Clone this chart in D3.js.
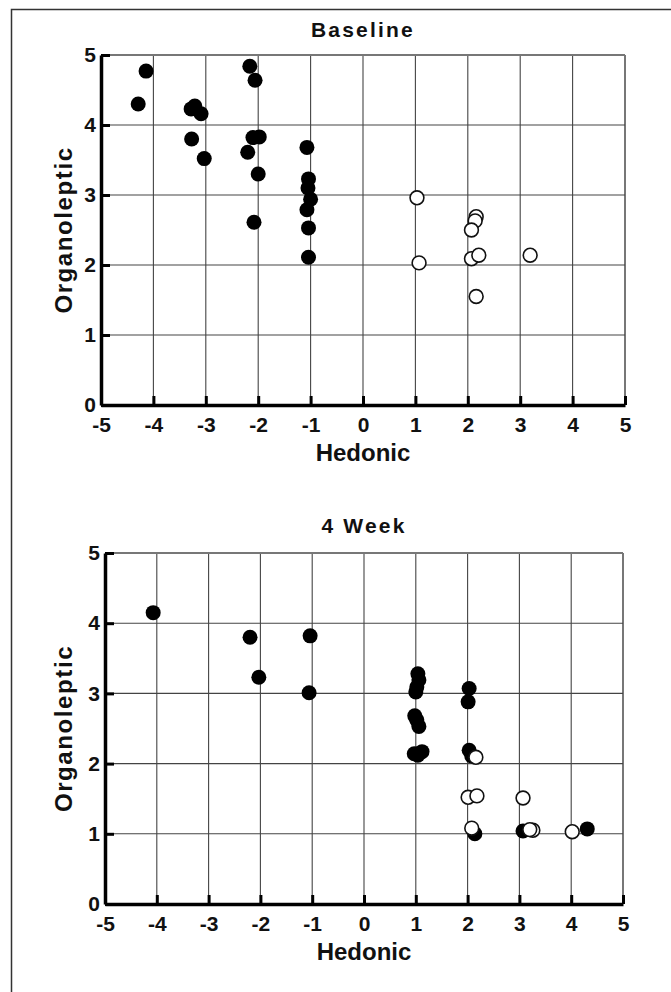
<!DOCTYPE html>
<html>
<head>
<meta charset="utf-8">
<script src="https://cdn.jsdelivr.net/npm/d3@7"></script>
<style>
  body { margin: 0; background: #fff; }
  text { font-family: "Liberation Sans", Arial, sans-serif; font-weight: bold; fill: #111; }
</style>
</head>
<body>
<div class="figure"></div>
<script>
var width = 671, height = 992;

// hedonic / organoleptic pairs
var baselineSolid = [
  [-4.29, 4.30], [-4.14, 4.77], [-3.28, 4.23], [-3.21, 4.27], [-3.09, 4.16],
  [-3.27, 3.80], [-3.03, 3.52], [-2.16, 4.84], [-2.06, 4.64], [-2.10, 3.82],
  [-1.98, 3.83], [-2.20, 3.61], [-2.00, 3.30], [-2.08, 2.61], [-1.07, 3.68],
  [-1.04, 3.23], [-1.05, 3.10], [-1.00, 2.94], [-1.07, 2.79], [-1.04, 2.53],
  [-1.04, 2.11]
];
var baselineOpen = [
  [1.03, 2.96], [1.07, 2.03], [2.16, 2.69], [2.14, 2.63], [2.07, 2.50],
  [2.07, 2.09], [2.21, 2.14], [2.16, 1.55], [3.19, 2.14]
];
var weekSolid = [
  [-4.07, 4.15], [-2.20, 3.80], [-2.03, 3.23], [-1.04, 3.82], [-1.06, 3.01],
  [1.04, 3.28], [1.06, 3.19], [1.02, 3.09], [1.00, 3.02], [0.98, 2.68],
  [1.02, 2.62], [1.06, 2.53], [0.97, 2.14], [1.12, 2.17], [1.04, 2.12],
  [2.03, 3.07], [2.01, 2.88], [2.03, 2.19], [2.08, 2.11], [2.14, 1.00],
  [3.07, 1.04], [4.31, 1.07]
];
var weekOpen = [
  [2.16, 2.09], [2.01, 1.52], [2.18, 1.54], [3.07, 1.51], [2.08, 1.08],
  [3.26, 1.05], [3.20, 1.06], [4.02, 1.03]
];
var xTicks = [-5, -4, -3, -2, -1, 0, 1, 2, 3, 4, 5];
var yTicks = [0, 1, 2, 3, 4, 5];

var svg = d3.select(".figure")
            .append("svg")
            .attr("width", width)
            .attr("height", height);

// frame (only top and left edges are visible)
svg.append("path")
   .attr("d", "M11.5,992 V9.5 H671")
   .attr("fill", "none")
   .attr("stroke", "#333")
   .attr("stroke-width", 1.5);

function panel(title, solid, open, box, titleY) {
  var x = d3.scaleLinear().domain([-5, 5]).range([box.left, box.right]);
  var y = d3.scaleLinear().domain([0, 5]).range([box.bottom, box.top]);
  var g = svg.append("g");

  // grid
  g.selectAll(".vgrid")
    .data(xTicks.slice(1))
  .enter().append("line")
    .attr("x1", function(d) { return x(d); })
    .attr("x2", function(d) { return x(d); })
    .attr("y1", y(0))
    .attr("y2", y(5))
    .attr("stroke", function(d) { return d === 5 ? "#777" : "#444"; })
    .attr("stroke-width", function(d) { return d === 5 ? 2 : 1.1; });

  g.selectAll(".hgrid")
    .data(yTicks.slice(1))
  .enter().append("line")
    .attr("x1", x(-5))
    .attr("x2", x(5))
    .attr("y1", function(d) { return y(d); })
    .attr("y2", function(d) { return y(d); })
    .attr("stroke", function(d) { return d === 5 ? "#777" : "#444"; })
    .attr("stroke-width", function(d) { return d === 5 ? 2 : 1.1; });

  // axes
  var fmt = function(d) { return String(d); };
  var xAxis = g.append("g")
      .attr("transform", "translate(0," + y(0) + ")")
      .call(d3.axisBottom(x).tickValues(xTicks).tickFormat(fmt)
            .tickSizeInner(-9).tickSizeOuter(0).tickPadding(12));
  var yAxis = g.append("g")
      .attr("transform", "translate(" + x(-5) + ",0)")
      .call(d3.axisLeft(y).tickValues(yTicks).tickFormat(fmt)
            .tickSizeInner(-9).tickSizeOuter(0).tickPadding(5));

  [xAxis, yAxis].forEach(function(a) {
    a.select(".domain").attr("stroke", "#000").attr("stroke-width", 3.5);
    a.selectAll(".tick line").attr("stroke", "#000").attr("stroke-width", 3);
    a.selectAll(".tick text")
      .attr("font-family", null)
      .style("font-size", "21px")
      .attr("fill", "#111");
  });

  // titles
  g.append("text")
    .attr("x", (box.left + box.right) / 2)
    .attr("y", titleY)
    .attr("text-anchor", "middle")
    .style("font-size", "21px")
    .style("letter-spacing", "2.2px")
    .text(title);

  g.append("text")
    .attr("x", (box.left + box.right) / 2)
    .attr("y", y(0) + 56)
    .attr("text-anchor", "middle")
    .style("font-size", "24px")
    .text("Hedonic");

  g.append("text")
    .attr("transform", "translate(72," + (y(0) + y(5)) / 2 + ") rotate(-90)")
    .attr("text-anchor", "middle")
    .style("font-size", "24px")
    .style("letter-spacing", "1.6px")
    .text("Organoleptic");

  // points
  g.selectAll(".solid")
    .data(solid)
  .enter().append("circle")
    .attr("cx", function(d) { return x(d[0]); })
    .attr("cy", function(d) { return y(d[1]); })
    .attr("r", 7.5)
    .attr("fill", "#000");

  g.selectAll(".open")
    .data(open)
  .enter().append("circle")
    .attr("cx", function(d) { return x(d[0]); })
    .attr("cy", function(d) { return y(d[1]); })
    .attr("r", 6.9)
    .attr("fill", "#fff")
    .attr("stroke", "#111")
    .attr("stroke-width", 1.6);
}

panel("Baseline", baselineSolid, baselineOpen, {left: 101, right: 625, top: 55, bottom: 405}, 37);
panel("4 Week", weekSolid, weekOpen, {left: 105, right: 623, top: 553, bottom: 904}, 533);
</script>
</body>
</html>
